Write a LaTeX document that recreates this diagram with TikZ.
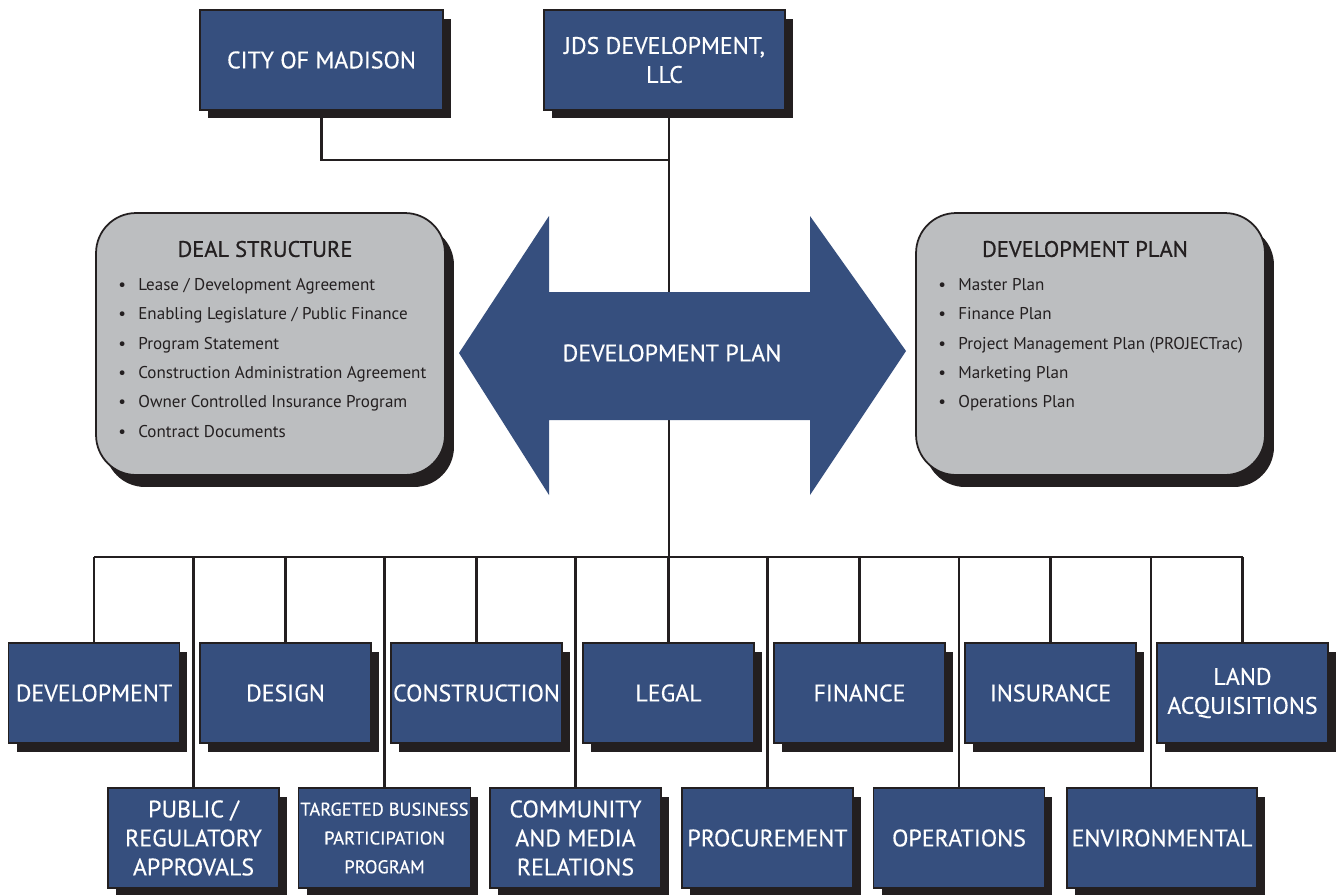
\documentclass[tikz,border=0pt]{standalone}
\usepackage{fontspec}
\setmainfont{PT Sans}
\newfontfamily\unitfont{PT Sans}[FakeBold=0.4]
\newfontfamily\headfont{PT Sans}[FakeBold=0.7]
\usetikzlibrary{shadows,backgrounds}
\definecolor{boxblue}{RGB}{54,79,126}
\definecolor{shadowgray}{RGB}{35,31,32}
\definecolor{panelgray}{RGB}{188,190,192}
\begin{document}
\begin{tikzpicture}
    [x=0.02cm,y=-0.02cm,
     unit/.style={draw=shadowgray, line width=0.7pt, fill=boxblue, text=white,
       minimum width=3.42cm, minimum height=2cm, inner sep=1pt, align=center,
       font=\unitfont\fontsize{13.6}{16.5}\selectfont,
       drop shadow={shadow xshift=0.16cm, shadow yshift=-0.17cm, opacity=1, fill=shadowgray}},
     panel/.style={draw=shadowgray, line width=1pt, fill=panelgray, rounded corners=0.8cm,
       minimum width=6.98cm, minimum height=5.24cm,
       drop shadow={shadow xshift=0.18cm, shadow yshift=-0.24cm, opacity=1, fill=shadowgray}},
     ptitle/.style={text=shadowgray, inner sep=0pt, font=\headfont\fontsize{12.8}{14}\selectfont},
     plist/.style={text=shadowgray, align=left, anchor=north west, inner sep=0pt,
       font=\fontsize{9.7}{16.7}\selectfont},
     link/.style={draw=shadowgray, line width=1.4pt}]
  \useasboundingbox (0,0) rectangle (1338,894);

  % top
  \node[unit, minimum width=4.86cm] (city) at (321.5,60) {CITY OF MADISON};
  \node[unit, minimum width=4.82cm] (jds) at (664.5,60) {JDS DEVELOPMENT,\\LLC};

  % side panels
  \node[panel] (deal) at (270.5,344) {};
  \node[ptitle] (dealtitle) at (265,249) {DEAL STRUCTURE};
  \node[plist] (deallist) at (118,278) {%
    \textbullet\hspace{7pt}Lease / Development Agreement\\
    \textbullet\hspace{7pt}Enabling Legislature / Public Finance\\
    \textbullet\hspace{7pt}Program Statement\\
    \textbullet\hspace{7pt}Construction Administration Agreement\\
    \textbullet\hspace{7pt}Owner Controlled Insurance Program\\
    \textbullet\hspace{7pt}Contract Documents};
  \node[panel] (plan) at (1090.5,344) {};
  \node[ptitle] (plantitle) at (1085,249) {DEVELOPMENT PLAN};
  \node[plist] (planlist) at (938,278) {%
    \textbullet\hspace{7pt}Master Plan\\
    \textbullet\hspace{7pt}Finance Plan\\
    \textbullet\hspace{7pt}Project Management Plan (PROJECTrac)\\
    \textbullet\hspace{7pt}Marketing Plan\\
    \textbullet\hspace{7pt}Operations Plan};

  % double arrow
  \fill[boxblue] (459,353) -- (549,216) -- (549,292) -- (810,292) -- (810,216)
    -- (906,351) -- (810,495) -- (810,420) -- (549,420) -- (549,495) -- cycle;
  \node[text=white, font=\unitfont\fontsize{13.6}{16.5}\selectfont] (arrowlabel) at (672,353) {DEVELOPMENT PLAN};

  % departments
  \node[unit] (dev) at (94,693) {DEVELOPMENT};
  \node[unit] (design) at (285.5,693) {DESIGN};
  \node[unit] (constr) at (476.5,693) {CONSTRUCTION};
  \node[unit] (legal) at (668.5,693) {LEGAL};
  \node[unit] (finance) at (859.5,693) {FINANCE};
  \node[unit] (insur) at (1050.5,693) {INSURANCE};
  \node[unit] (land) at (1242.5,693) {LAND\\ACQUISITIONS};

  \node[unit] (public) at (193.5,838) {PUBLIC /\\REGULATORY\\APPROVALS};
  \node[unit, font=\unitfont\fontsize{10.5}{16.4}\selectfont] (tbp) at (384.5,838) {TARGETED BUSINESS\\PARTICIPATION\\PROGRAM};
  \node[unit] (comm) at (575.5,838) {COMMUNITY\\AND MEDIA\\RELATIONS};
  \node[unit] (procure) at (767.5,838) {PROCUREMENT};
  \node[unit] (ops) at (959,838) {OPERATIONS};
  \node[unit, minimum width=3.8cm] (env) at (1162,838) {ENVIRONMENTAL};

  \coordinate (tee) at (669,160);
  \coordinate (hub) at (669,557);

  \begin{scope}[on background layer]
    \draw[link] (city.south) |- (tee);
    \draw[link] (hub |- jds.south) -- (hub);
    \draw[link] (dev.north |- hub) -- (land.north |- hub);
    \foreach \to in {dev, design, constr, legal, finance, insur, land, public, tbp, comm, procure, ops}
      \draw[link] (\to.north |- hub) -- (\to.north);
    \draw[link] ([xshift=-0.22cm]env.north |- hub) -- ([xshift=-0.22cm]env.north);
  \end{scope}
\end{tikzpicture}
\end{document}
